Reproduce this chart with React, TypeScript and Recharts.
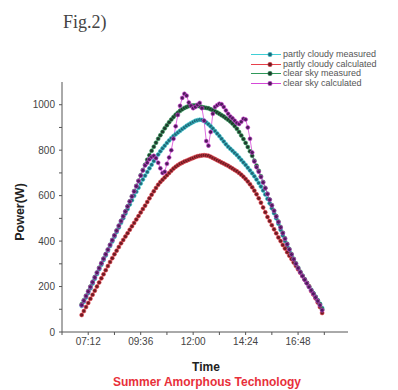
import { LineChart, Line, XAxis, YAxis } from "recharts";

// minutes since midnight, one reading every 6 min
const times = [
  414, 420, 426, 432, 438, 444, 450, 456, 462, 468,
  474, 480, 486, 492, 498, 504, 510, 516, 522, 528,
  534, 540, 546, 552, 558, 564, 570, 576, 582, 588,
  594, 600, 606, 612, 618, 624, 630, 636, 642, 648,
  654, 660, 666, 672, 678, 684, 690, 696, 702, 708,
  714, 720, 726, 732, 738, 744, 750, 756, 762, 768,
  774, 780, 786, 792, 798, 804, 810, 816, 822, 828,
  834, 840, 846, 852, 858, 864, 870, 876, 882, 888,
  894, 900, 906, 912, 918, 924, 930, 936, 942, 948,
  954, 960, 966, 972, 978, 984, 990, 996, 1002, 1008,
  1014, 1020, 1026, 1032, 1038, 1044, 1050, 1056, 1062, 1068,
  1074,
];

const partlyMeasured = [
  115, 133, 152, 172, 192, 213, 234, 255, 276, 296,
  317, 337, 357, 378, 398, 419, 440, 460, 481, 501,
  521, 541, 561, 580, 599, 617, 635, 653, 671, 688,
  704, 720, 736, 752, 767, 781, 795, 808, 820, 832,
  843, 853, 862, 870, 878, 885, 893, 900, 907, 913,
  919, 924, 929, 932, 934, 933, 929, 922, 914, 905,
  895, 884, 873, 862, 850, 838, 826, 815, 806, 797,
  788, 779, 768, 757, 746, 735, 723, 711, 698, 685,
  671, 656, 640, 623, 605, 586, 566, 545, 523, 500,
  476, 450, 425, 400, 377, 355, 335, 316, 298, 281,
  264, 248, 232, 216, 200, 185, 170, 155, 140, 124,
  106,
];

const partlyCalculated = [
  75, 92, 110, 128, 146, 164, 182, 200, 218, 236,
  254, 272, 290, 308, 325, 342, 358, 374, 390, 405,
  420, 435, 450, 465, 480, 495, 510, 526, 541, 556,
  572, 588, 604, 619, 634, 648, 660, 670, 680, 690,
  700, 710, 719, 727, 734, 740, 745, 750, 754, 758,
  762, 766, 770, 773, 775, 777, 778, 777, 775, 771,
  766, 761, 756, 751, 746, 741, 736, 731, 725, 719,
  713, 707, 700, 692, 683, 673, 662, 650, 637, 622,
  606, 588, 569, 548, 527, 506, 488, 470, 452, 434,
  416, 400, 383, 367, 351, 336, 321, 306, 291, 276,
  261, 246, 231, 216, 201, 180, 165, 148, 130, 110,
  84,
];

const clearMeasured = [
  122, 140, 160, 180, 200, 221, 242, 262, 283, 303,
  323, 343, 363, 384, 405, 426, 447, 468, 489, 510,
  531, 553, 575, 597, 620, 643, 666, 690, 713, 736,
  758, 778, 797, 815, 833, 850, 866, 881, 896, 910,
  923, 935, 946, 956, 965, 973, 980, 986, 990, 994,
  996, 997, 997, 995, 993, 990, 988, 986, 984, 980,
  976, 971, 966, 960, 954, 948, 941, 934, 926, 917,
  906, 894, 880, 865, 849, 832, 814, 795, 775, 754,
  732, 709, 685, 660, 634, 608, 583, 558, 534, 510,
  486, 462, 437, 412, 388, 365, 343, 322, 302, 283,
  265, 248, 232, 216, 200, 185, 170, 155, 139, 122,
  100,
];

const clearCalculated = [
  118, 138, 158, 178, 198, 219, 240, 261, 281, 302,
  322, 342, 362, 383, 404, 425, 446, 467, 488, 509,
  530, 552, 574, 596, 618, 641, 664, 688, 711, 733,
  745, 760, 770, 775, 765, 745, 720, 700, 705, 740,
  768, 800, 850, 905, 955, 995, 1030, 1048, 1040, 1010,
  995, 985, 990, 1000, 1008, 985, 930, 840, 820, 880,
  960, 990, 998, 1004, 1002, 990, 975, 960, 948, 940,
  930, 920, 915, 925, 938, 935, 900, 850, 790, 750,
  725, 705, 682, 658, 633, 607, 582, 557, 533, 508,
  484, 460, 435, 410, 386, 363, 341, 320, 300, 281,
  263, 246, 230, 214, 198, 183, 168, 152, 136, 118,
  96,
];

const xMajor = [432, 576, 720, 864, 1008];
const xMinor = [360, 504, 648, 792, 936, 1080];
const yMajor = [0, 200, 400, 600, 800, 1000];
const yMinor = [100, 300, 500, 700, 900];

const series = [
  { key: "pcm", name: "partly cloudy measured", line: "#3fcfd6", dot: "#1f6878" },
  { key: "pcc", name: "partly cloudy calculated", line: "#e8404a", dot: "#6e1c24" },
  { key: "csm", name: "clear sky measured", line: "#2f9a5a", dot: "#1e3a2c" },
  { key: "csc", name: "clear sky calculated", line: "#d548d8", dot: "#4e1c5c" },
];

const rows = times.map((t, i) => ({
  t,
  pcm: partlyMeasured[i],
  pcc: partlyCalculated[i],
  csm: clearMeasured[i],
  csc: clearCalculated[i],
}));

const font = "'Liberation Sans', Arial, sans-serif";
const hhmm = (m: number) =>
  `${String(Math.floor(m / 60)).padStart(2, "0")}:${String(m % 60).padStart(2, "0")}`;

const XTick = ({ x, y, payload }: any) =>
  xMajor.includes(payload.value) ? (
    <text x={x} y={y} dy={8} textAnchor="middle" fontSize={10} fill="#444" fontFamily={font}>
      {hhmm(payload.value)}
    </text>
  ) : null;

const YTick = ({ x, y, payload }: any) =>
  yMajor.includes(payload.value) ? (
    <text x={x} y={y} dy={3.5} textAnchor="end" fontSize={10} fill="#444" fontFamily={font}>
      {payload.value}
    </text>
  ) : null;

export default function App() {
  return (
    <div style={{ position: "absolute", left: 0, top: 0, width: 398, height: 390, background: "#fff", fontFamily: font }}>
      <div style={{ position: "absolute", left: 63, top: 12, fontFamily: "'Liberation Serif', serif", fontSize: 18, color: "#444" }}>
        Fig.2)
      </div>

      <LineChart width={398} height={390} data={rows} margin={{ top: 82, right: 50, bottom: 38, left: 22 }}>
        <XAxis
          dataKey="t"
          type="number"
          domain={[360, 1145]}
          ticks={[...xMajor, ...xMinor].sort((a, b) => a - b)}
          interval={0}
          height={20}
          tick={<XTick />}
          tickSize={3}
          stroke="#555"
          allowDataOverflow
        />
        <YAxis
          domain={[0, 1100]}
          ticks={[...yMajor, ...yMinor].sort((a, b) => a - b)}
          interval={0}
          width={40}
          tick={<YTick />}
          tickSize={3}
          tickMargin={4}
          stroke="#555"
          allowDataOverflow
        />
        {series.map((s) => (
          <Line
            key={s.key}
            dataKey={s.key}
            name={s.name}
            stroke={s.line}
            strokeWidth={0.8}
            dot={{ r: 2, fill: s.dot, stroke: s.line, strokeWidth: 0.6 }}
            isAnimationActive={false}
          />
        ))}
      </LineChart>

      {/* legend */}
      <div style={{ position: "absolute", left: 250, top: 50 }}>
        {series.map((s) => (
          <div key={s.key} style={{ display: "flex", alignItems: "center", height: 9.6 }}>
            <svg width={33} height={9}>
              <line x1={1} y1={4.5} x2={31} y2={4.5} stroke={s.line} strokeWidth={1} />
              <circle cx={20} cy={4.5} r={2.2} fill={s.dot} stroke={s.line} strokeWidth={0.6} />
            </svg>
            <span style={{ fontSize: 9, color: "#555", whiteSpace: "nowrap", lineHeight: "9px" }}>{s.name}</span>
          </div>
        ))}
      </div>

      <div style={{ position: "absolute", left: 20, top: 212, transform: "translate(-50%, -50%) rotate(-90deg)", fontSize: 12.5, fontWeight: "bold", color: "#222", whiteSpace: "nowrap" }}>
        Power(W)
      </div>
      <div style={{ position: "absolute", left: 206, top: 367, transform: "translate(-50%, -50%)", fontSize: 12, fontWeight: "bold", color: "#222" }}>
        Time
      </div>
      <div style={{ position: "absolute", left: 207, top: 382, transform: "translate(-50%, -50%)", fontSize: 12, fontWeight: "bold", color: "#e8303a", whiteSpace: "nowrap" }}>
        Summer Amorphous Technology
      </div>
    </div>
  );
}
